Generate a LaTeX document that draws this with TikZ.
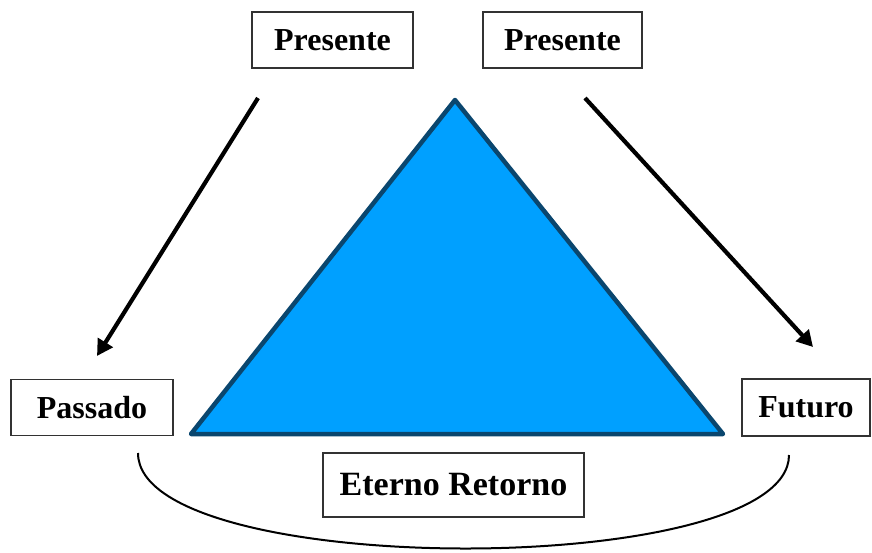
\documentclass[tikz,border=0pt]{standalone}
\usepackage{fontspec}
\setmainfont{Liberation Serif}
\usetikzlibrary{arrows.meta}
\definecolor{trifill}{RGB}{0,160,255}
\definecolor{triedge}{RGB}{10,70,110}
\definecolor{boxedge}{RGB}{50,50,50}
\tikzset{
  lbl/.style={draw=boxedge, line width=1.1pt, fill=white, inner sep=0pt,
    font=\fontsize{32}{38}\selectfont\bfseries, anchor=center},
  arr/.style={line width=4.2pt, -{Triangle[length=16pt,width=17pt]}},
  tri/.style={fill=trifill, draw=triedge, line width=4.5pt, line join=round},
  loop/.style={line width=2pt}
}
\begin{document}
\begin{tikzpicture}[x=1pt,y=-1pt]
\useasboundingbox (0,0) rectangle (872,552);
% boxes
\node[lbl, minimum width=161pt, minimum height=56pt] (p1) at (332.5,40) {Presente};
\node[lbl, minimum width=159pt, minimum height=56pt] (p2) at (562.5,40) {Presente};
\node[lbl, minimum width=162pt, minimum height=56pt] (pa) at (92,407.5) {Passado};
\node[lbl, minimum width=128pt, minimum height=57pt] (fu) at (806,407.5) {Futuro};
\node[lbl, minimum width=261pt, minimum height=64pt, font=\fontsize{34}{40}\selectfont\bfseries] (er) at (453.5,485) {Eterno Retorno};
% triangle
\coordinate (ta) at (455,100);
\coordinate (tl) at (191,434);
\coordinate (tr) at (723,434);
\draw[tri] (ta) -- (tr) -- (tl) -- cycle;
% arrows
\coordinate (a1s) at (258,98);
\coordinate (a1e) at (97,356);
\coordinate (a2s) at (585,98);
\coordinate (a2e) at (813,347);
\draw[arr] (a1s) -- (a1e);
\draw[arr] (a2s) -- (a2e);
% curve
\coordinate (cs) at (138,453);
\coordinate (ce) at (789,455);
\draw[loop] (cs) .. controls (138,580) and (789,580) .. (ce);
\end{tikzpicture}
\end{document}
